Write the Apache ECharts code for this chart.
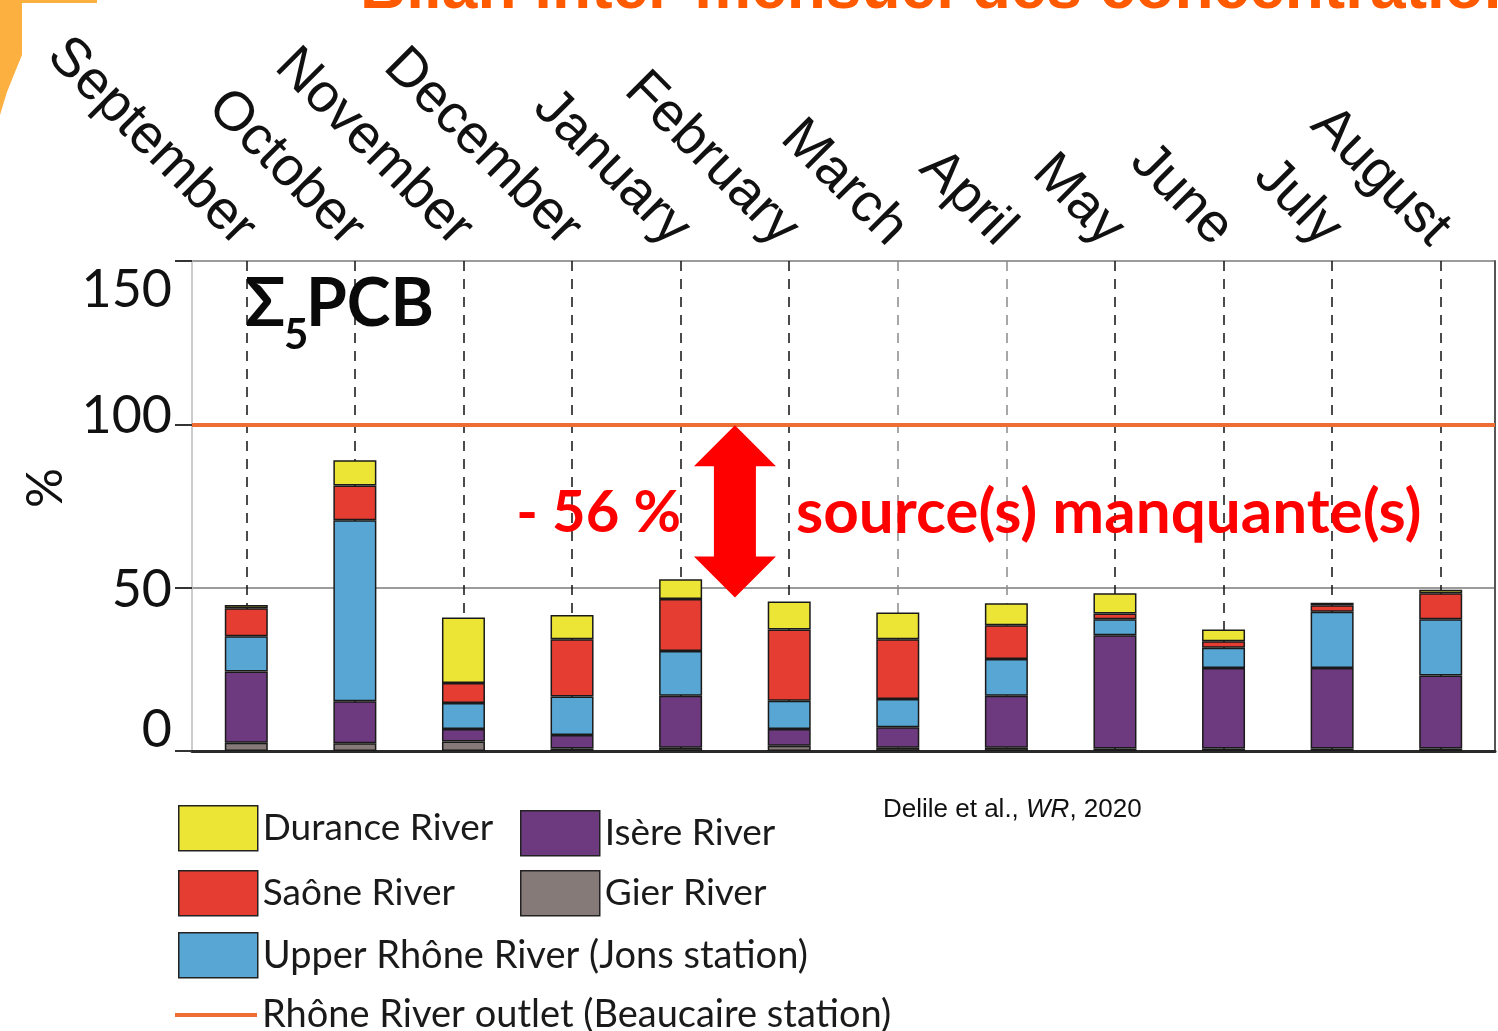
<!DOCTYPE html>
<html>
<head>
<meta charset="utf-8">
<title>Σ5PCB</title>
<script src="https://cdn.jsdelivr.net/npm/echarts@6/dist/echarts.min.js"></script>
<style>
  html, body { margin: 0; padding: 0; background: #fff; }
  #main { width: 1498px; height: 1031px; }
</style>
</head>
<body>
<div id="main"></div>
<script>
// données (% du flux à Beaucaire)
const months = ['September', 'October', 'November', 'December', 'January', 'February',
  'March', 'April', 'May', 'June', 'July', 'August'];
const gier       = [2.5, 2.4, 2.9, 0.8, 1.0, 1.6, 1.0, 1.0, 0.8, 0.8, 0.8, 0.8];
const isere      = [21.8, 12.8, 3.8, 4.1, 15.9, 5.1, 6.3, 15.9, 34.6, 24.6, 24.6, 22.3];
const upperRhone = [10.8, 55.4, 8.0, 11.8, 13.7, 8.7, 8.6, 11.3, 4.9, 6.2, 17.2, 17.2];
const saone      = [8.6, 10.7, 6.1, 17.5, 15.9, 21.8, 18.3, 10.3, 1.8, 2.0, 2.0, 8.0];
const durance    = [1.0, 7.7, 20.1, 7.4, 6.1, 8.6, 8.2, 6.7, 6.2, 3.6, 0.8, 1.1];
const outletLevel = 100;
const arrowBottom = 47;
const yTicks = [0, 50, 100, 150];

const chart = echarts.init(document.getElementById('main'));

const labelFont = { fontFamily: 'Lato', fontSize: 52, color: '#111' };
const legendText = { fontFamily: 'Lato', fontSize: 37, color: '#1a1a1a' };

function barSeries(name, data, color) {
  return {
    name: name,
    type: 'bar',
    stack: 'pcb',
    barWidth: 43,
    z: 10,
    data: data,
    itemStyle: { color: color, borderColor: '#1a1a1a', borderWidth: 1.5 }
  };
}

function legendAt(name, left, top, extra) {
  return Object.assign({
    data: [name],
    left: left,
    top: top,
    orient: 'horizontal',
    icon: 'rect',
    itemWidth: 79,
    itemHeight: 45,
    itemGap: 0,
    padding: 0,
    selectedMode: false,
    textStyle: legendText,
    itemStyle: { borderColor: '#222', borderWidth: 1.5 }
  }, extra || {});
}

// couleur des pointillés : mars et avril plus clairs sur la figure
const guideColors = months.map(function (m) {
  return (m === 'March' || m === 'April') ? '#8a8a8a' : '#111';
});

const option = {
  backgroundColor: '#fff',
  animation: false,
  grid: { left: 192, right: 3, top: 261, bottom: 280, containLabel: false, outerBoundsMode: 'none' },
  xAxis: [
    {
      type: 'category',
      data: months,
      position: 'top',
      boundaryGap: true,
      axisLine: { lineStyle: { color: '#444', width: 2 } },
      axisTick: { alignWithLabel: true, length: 12, lineStyle: { color: '#333', width: 1.5 } },
      axisLabel: {
        interval: 0,
        rotate: -45,
        margin: 24,
        fontFamily: 'Liberation Sans',
        fontSize: 55,
        color: '#111'
      },
      splitLine: {
        show: true,
        alignWithLabel: true,
        interval: 0,
        lineStyle: { type: [10, 8], width: 1.5, color: guideColors }
      }
    },
    {
      type: 'category',
      data: months,
      position: 'bottom',
      boundaryGap: true,
      axisLine: { lineStyle: { color: '#2a2a2a', width: 3 } },
      axisTick: { alignWithLabel: true, length: 6, lineStyle: { color: '#333', width: 1.5 } },
      axisLabel: { show: false },
      splitLine: { show: false }
    }
  ],
  yAxis: [
    {
      type: 'value',
      min: yTicks[0],
      max: yTicks[yTicks.length - 1],
      interval: 50,
      name: '%',
      nameLocation: 'middle',
      nameRotate: 90,
      nameGap: 86,
      nameTextStyle: { fontFamily: 'Lato', fontSize: 50, color: '#111', padding: [20, 0, 0, 36] },
      axisLine: { show: true, lineStyle: { color: '#bbb', width: 1.5 } },
      axisTick: { show: true, length: 17, lineStyle: { color: '#333', width: 2 } },
      axisLabel: {
        margin: 20,
        formatter: function (v) { return '{v' + v + '|' + v + '}'; },
        rich: {
          v0: Object.assign({ padding: [0, 0, 42, 0] }, labelFont),
          v50: Object.assign({ padding: [6, 0, 0, 0] }, labelFont),
          v100: Object.assign({ padding: [0, 0, 16, 0] }, labelFont),
          v150: Object.assign({ padding: [58, 0, 0, 0] }, labelFont)
        }
      },
      splitLine: { lineStyle: { color: '#7a7a7a', width: 1.5 } }
    },
    {
      // cadre droit
      type: 'value',
      position: 'right',
      min: yTicks[0],
      max: yTicks[yTicks.length - 1],
      interval: 50,
      axisLine: { show: true, lineStyle: { color: '#555', width: 2 } },
      axisTick: { show: false },
      axisLabel: { show: false },
      splitLine: { show: false }
    }
  ],
  legend: [
    legendAt('Durance River', 178, 805),
    legendAt('Isère River', 520, 810),
    legendAt('Saône River', 178, 870),
    legendAt('Gier River', 520, 870),
    legendAt('Upper Rhône River (Jons station)', 178, 932, { textStyle: Object.assign({}, legendText, { fontSize: 38 }) }),
    legendAt('Rhône River outlet (Beaucaire station)', 175, 996, {
      itemWidth: 82, itemHeight: 4, itemStyle: { borderWidth: 0 },
      textStyle: Object.assign({}, legendText, { fontSize: 38 })
    })
  ],
  series: [
    barSeries('Gier River', gier, '#857a77'),
    barSeries('Isère River', isere, '#6e3a7f'),
    barSeries('Upper Rhône River (Jons station)', upperRhone, '#58a6d3'),
    barSeries('Saône River', saone, '#e53d32'),
    barSeries('Durance River', durance, '#ece535'),
    {
      name: 'Rhône River outlet (Beaucaire station)',
      type: 'line',
      data: [],
      color: '#ef6c33',
      itemStyle: { color: '#ef6c33' },
      z: 11,
      markLine: {
        z: 11,
        silent: true,
        symbol: ['none', 'none'],
        label: { show: false },
        lineStyle: { type: 'solid', color: '#ef6c33', width: 4 },
        data: [{ yAxis: outletLevel }]
      }
    }
  ]
};

chart.setOption(option);

// annotations placées à partir des échelles du graphique
const xJan = chart.convertToPixel({ xAxisIndex: 0 }, 'January');
const xFeb = chart.convertToPixel({ xAxisIndex: 0 }, 'February');
const cx = (xJan + xFeb) / 2;
const yTop = chart.convertToPixel({ yAxisIndex: 0 }, outletLevel) + 1;
const yBot = chart.convertToPixel({ yAxisIndex: 0 }, arrowBottom);
const head = 41, hw = 41, sw = 21;
const yMid = (yTop + yBot) / 2 + 2;

chart.setOption({
  graphic: [
    {
      type: 'polygon',
      left: 0, top: 0,
      shape: {
        points: [[0, 0], [97, 0], [97, 3], [22, 3], [22, 55], [15, 72], [7, 92], [0, 115]]
      },
      style: { fill: '#fbb040' },
      silent: true
    },
    {
      type: 'text',
      x: 360, y: 22,
      style: {
        text: 'Bilan inter-mensuel des concentrations',
        fill: '#ff5a00',
        font: 'bold 64px "Liberation Sans"',
        textVerticalAlign: 'bottom'
      },
      silent: true
    },
    {
      type: 'text',
      x: 245, y: 272,
      style: { text: 'Σ', fill: '#0a0a0a', font: 'bold 66px Lato' }
    },
    {
      type: 'text',
      x: 284, y: 314,
      style: { text: '5', fill: '#0a0a0a', font: 'bold 42px Lato' }
    },
    {
      type: 'text',
      x: 306, y: 272,
      style: { text: 'PCB', fill: '#0a0a0a', font: 'bold 66px Lato' }
    },
    {
      type: 'polygon',
      shape: {
        points: [
          [cx, yTop], [cx + hw, yTop + head], [cx + sw, yTop + head],
          [cx + sw, yBot - head], [cx + hw, yBot - head], [cx, yBot],
          [cx - hw, yBot - head], [cx - sw, yBot - head], [cx - sw, yTop + head],
          [cx - hw, yTop + head]
        ]
      },
      style: { fill: '#ff0000' },
      z: 20
    },
    {
      type: 'text',
      x: cx - 54, y: yMid,
      style: {
        text: '- 56 %', fill: '#ff0000', font: 'bold 58px Lato',
        textAlign: 'right', textVerticalAlign: 'middle'
      },
      z: 20
    },
    {
      type: 'text',
      x: cx + 61, y: yMid,
      style: {
        text: 'source(s) manquante(s)', fill: '#ff0000', font: 'bold 62px Lato',
        textAlign: 'left', textVerticalAlign: 'middle'
      },
      z: 20
    },
    {
      type: 'text',
      x: 883, y: 810,
      style: {
        text: '{n|Delile et al., }{i|WR}{n|, 2020}',
        textVerticalAlign: 'middle',
        rich: {
          n: { fontFamily: 'Liberation Sans', fontSize: 26, fill: '#111' },
          i: { fontFamily: 'Liberation Sans', fontSize: 26, fontStyle: 'italic', fill: '#111' }
        }
      }
    }
  ]
});
</script>
</body>
</html>
